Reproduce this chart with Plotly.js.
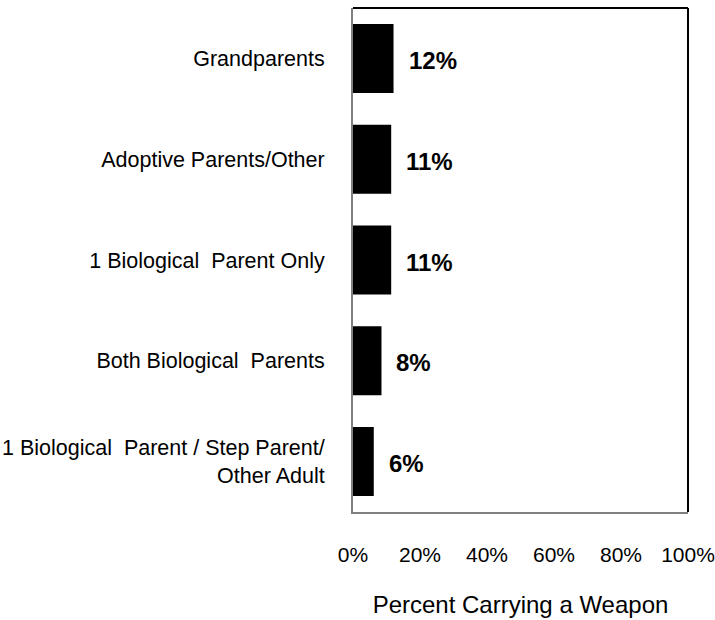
<!DOCTYPE html>
<html>
<head>
<meta charset="utf-8">
<script src="https://cdn.plot.ly/plotly-3.0.1.min.js"></script>
<style>
html,body{margin:0;padding:0;background:#fff;}
#chart{width:715px;height:620px;}
</style>
</head>
<body>
<div id="chart"></div>
<script>
// Data (top to bottom as shown)
var categories = [
  "Grandparents",
  "Adoptive Parents/Other",
  "1 Biological  Parent Only",
  "Both Biological  Parents",
  "1 Biological  Parent / Step Parent/<br>Other Adult"
];
var values = [12.1, 11.4, 11.4, 8.5, 6.2];
var valueLabels = ["12%", "11%", "11%", "8%", "6%"];
var xTickValues = [0, 20, 40, 60, 80, 100];
var xTickLabels = ["0%", "20%", "40%", "60%", "80%", "100%"];

var FONT = "Liberation Sans, Arial, sans-serif";

var trace = {
  type: "bar",
  orientation: "h",
  x: values,
  y: categories,
  marker: {color: "#000000", line: {width: 0}},
  hoverinfo: "none"
};

var annotations = values.map(function (v, i) {
  return {
    x: v, y: categories[i], xref: "x", yref: "y",
    text: "<b>" + valueLabels[i] + "</b>",
    showarrow: false, xanchor: "left", yanchor: "middle",
    xshift: 13, yshift: -2,
    font: {family: FONT, size: 24, color: "#000"}
  };
});

var layout = {
  width: 715,
  height: 620,
  margin: {l: 353, r: 27, t: 8, b: 108, pad: 0},
  paper_bgcolor: "#fff",
  plot_bgcolor: "#fff",
  showlegend: false,
  bargap: 0.315,
  font: {family: FONT, color: "#000"},
  xaxis: {
    range: [0, 100],
    tickvals: xTickValues,
    ticktext: xTickLabels,
    showgrid: false,
    zeroline: false,
    showline: true,
    linecolor: "#808080",
    linewidth: 2,
    ticks: "outside",
    ticklen: 23,
    tickcolor: "rgba(0,0,0,0)",
    tickfont: {family: FONT, size: 21, color: "#000"},
    automargin: false,
    title: {text: "Percent Carrying a Weapon", font: {family: FONT, size: 24, color: "#000"}, standoff: 31},
    fixedrange: true
  },
  yaxis: {
    autorange: "reversed",
    showgrid: false,
    zeroline: false,
    showline: true,
    linecolor: "#808080",
    linewidth: 2,
    ticks: "outside",
    ticklen: 22,
    tickcolor: "rgba(0,0,0,0)",
    tickfont: {family: FONT, size: 21.5, color: "#000"},
    automargin: false,
    fixedrange: true
  },
  shapes: [
    {type: "line", xref: "paper", yref: "paper", x0: 0, x1: 1, y0: 1, y1: 1, line: {color: "#000", width: 2}},
    {type: "line", xref: "paper", yref: "paper", x0: 1, x1: 1, y0: 0, y1: 1, line: {color: "#000", width: 2}}
  ],
  annotations: annotations
};

Plotly.newPlot("chart", [trace], layout, {displayModeBar: false, staticPlot: true});
</script>
</body>
</html>
